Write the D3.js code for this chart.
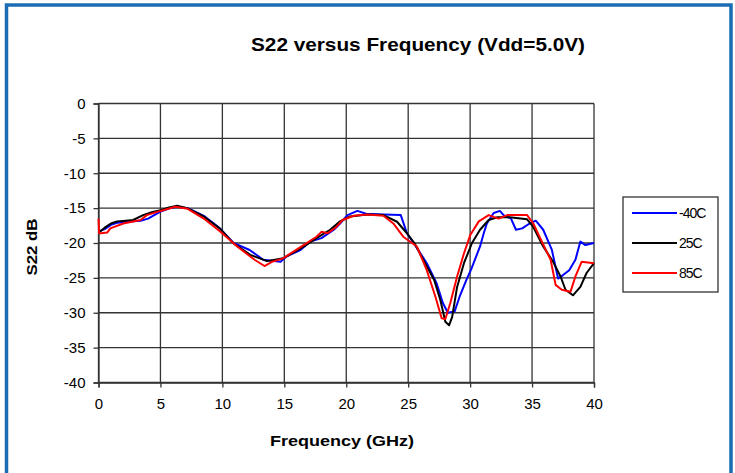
<!DOCTYPE html>
<html><head><meta charset="utf-8">
<script src="https://cdn.jsdelivr.net/npm/d3@7"></script>
<style>body{margin:0;background:#fff;} svg{display:block;}</style>
</head><body>
<svg id="c" width="735" height="473"></svg>
<script>
const title = "S22 versus Frequency (Vdd=5.0V)";
const xLabel = "Frequency (GHz)";
const yLabel = "S22 dB";
const xTicks = [0,5,10,15,20,25,30,35,40];
const yTicks = [0,-5,-10,-15,-20,-25,-30,-35,-40];
const seriesNames = ["-40C","25C","85C"];
const seriesColors = ["#0000ff","#000000","#ff0000"];

const freqM40 = [0.1,0.5,1.0,1.5,2.2,2.8,3.4,4.0,5.0,5.8,6.4,7.2,8.5,9.8,10.9,12.2,13.3,14.7,15.2,16.3,17.1,18.0,19.0,19.5,20.1,20.9,21.6,23.0,24.4,24.9,25.7,26.5,27.3,27.8,28.2,28.75,29.15,29.7,30.1,30.8,31.1,31.35,31.9,32.4,32.7,33.3,33.7,34.2,34.8,35.3,35.9,36.6,37.1,37.5,38.0,38.5,38.9,39.3,40.0];
const valM40 = [-18.3,-18.0,-17.4,-17.1,-17.0,-16.9,-16.8,-16.5,-15.5,-15.0,-14.8,-15.0,-16.1,-17.9,-20.0,-21.0,-22.4,-22.7,-21.9,-21.0,-19.8,-19.3,-18.1,-17.2,-16.0,-15.4,-15.8,-15.9,-16.0,-18.6,-20.7,-22.9,-25.8,-28.6,-30.0,-29.8,-27.7,-25.3,-23.7,-20.5,-18.6,-17.2,-15.7,-15.4,-16.0,-16.5,-18.1,-17.9,-17.2,-16.8,-18.1,-21.0,-25.1,-24.6,-23.9,-22.4,-19.8,-20.3,-20.0];

const freq25 = [0.1,0.5,1.0,1.5,2.2,2.8,3.6,4.3,5.0,5.7,6.35,7.15,8.5,9.85,10.9,12.25,13.6,14.9,16.3,17.6,18.7,19.5,20.3,21.7,23.0,24.1,24.9,25.5,26.3,27.1,27.6,28.0,28.3,28.55,28.95,29.5,30.15,30.8,31.5,32.2,33.2,34.6,35.1,35.9,36.7,37.3,37.7,38.3,38.9,39.4,40.0];
const val25 = [-18.4,-17.8,-17.2,-16.9,-16.8,-16.7,-16.0,-15.6,-15.3,-14.9,-14.65,-15.0,-16.2,-18.0,-20.05,-21.7,-22.6,-22.2,-20.8,-19.3,-18.1,-16.9,-16.2,-15.9,-16.0,-16.95,-18.6,-20.0,-22.7,-25.3,-28.2,-31.3,-31.8,-30.6,-26.3,-22.9,-20.0,-18.1,-16.7,-16.3,-16.3,-16.6,-17.7,-20.5,-22.7,-24.8,-26.7,-27.5,-26.3,-24.3,-22.9];

const freq85 = [0.0,0.05,0.2,0.7,0.95,2.0,3.4,3.9,5.0,6.2,7.2,8.5,9.85,11.2,12.6,13.4,14.0,14.9,16.3,17.6,18.0,18.5,19.2,19.7,20.6,21.7,23.0,23.8,24.6,25.7,26.5,27.2,27.7,28.0,28.4,28.95,29.5,30.0,30.7,31.5,32.3,33.0,34.6,35.1,35.6,36.5,36.9,37.4,38.1,38.5,39.0,40.0];
const val85 = [-16.5,-18.6,-18.6,-18.5,-17.9,-17.2,-16.7,-16.0,-15.4,-14.8,-15.1,-16.5,-18.4,-20.5,-22.4,-23.3,-22.7,-22.2,-20.6,-19.1,-18.4,-18.6,-17.7,-16.7,-16.1,-15.9,-16.1,-17.2,-19.1,-20.5,-23.9,-27.7,-30.8,-30.9,-28.6,-24.8,-21.5,-18.9,-16.9,-16.0,-16.5,-16.0,-16.0,-17.2,-19.1,-22.4,-26.0,-26.7,-27.0,-24.8,-22.7,-22.9];

const freqs = [freqM40, freq25, freq85];
const vals = [valM40, val25, val85];

const svg = d3.select("#c");
const font = "'Liberation Sans', Arial, sans-serif";

// outer blue frame
svg.append("rect").attr("x",6.5).attr("y",5).attr("width",724.5).attr("height",480)
  .attr("fill","none").attr("stroke","#1a6db3").attr("stroke-width",3.5);

const x = d3.scaleLinear().domain([0,40]).range([98.5,594]);
const y = d3.scaleLinear().domain([-40,0]).range([382.5,103.5]);

const g = svg.append("g");
// grid
g.selectAll("line.hg").data(yTicks).join("line")
  .attr("x1",x(0)).attr("x2",x(40)).attr("y1",d=>y(d)).attr("y2",d=>y(d))
  .attr("stroke","#333").attr("stroke-width",1.3);
g.selectAll("line.vg").data(xTicks).join("line")
  .attr("y1",y(0)).attr("y2",y(-40)).attr("x1",d=>x(d)).attr("x2",d=>x(d))
  .attr("stroke","#333").attr("stroke-width",1.3);

const fmt = d => String(d);
const xAxis = d3.axisBottom(x).tickValues(xTicks).tickSize(5).tickPadding(11).tickFormat(fmt);
const yAxis = d3.axisLeft(y).tickValues(yTicks).tickSize(5).tickPadding(8).tickFormat(fmt);
const gx = svg.append("g").attr("transform",`translate(0,${y(-40)})`).call(xAxis);
const gy = svg.append("g").attr("transform",`translate(${x(0)},0)`).call(yAxis);
[gx,gy].forEach(a=>{
  a.selectAll("path").attr("stroke","#333").attr("stroke-width",1.3);
  a.selectAll("line").attr("stroke","#333").attr("stroke-width",1.3);
  a.selectAll("text").attr("font-family",font).attr("font-size",15).attr("fill","#000");
});

// lines
const line = d3.line().x(d=>x(d[0])).y(d=>y(d[1]));
[0,1,2].forEach(i=>{
  const pts = freqs[i].map((f,j)=>[f, vals[i][j]]);
  svg.append("path").datum(pts).attr("d",line).attr("fill","none")
    .attr("stroke",seriesColors[i]).attr("stroke-width",2).attr("stroke-linejoin","round");
});

// titles
svg.append("text").attr("x",418).attr("y",51).attr("text-anchor","middle")
  .attr("font-family",font).attr("font-weight","bold").attr("font-size",19)
  .attr("textLength",334).attr("lengthAdjust","spacingAndGlyphs").text(title);
svg.append("text").attr("x",342).attr("y",446).attr("text-anchor","middle")
  .attr("font-family",font).attr("font-weight","bold").attr("font-size",15)
  .attr("textLength",144).attr("lengthAdjust","spacingAndGlyphs").text(xLabel);
svg.append("text").attr("transform","translate(37,247) rotate(-90)").attr("text-anchor","middle")
  .attr("font-family",font).attr("font-weight","bold").attr("font-size",15)
  .attr("textLength",57).attr("lengthAdjust","spacingAndGlyphs").text(yLabel);

// legend
svg.append("rect").attr("x",623).attr("y",197).attr("width",95).attr("height",95)
  .attr("fill","#fff").attr("stroke","#333").attr("stroke-width",1.3);
const ly = [213,243,273];
seriesNames.forEach((n,i)=>{
  svg.append("line").attr("x1",632).attr("x2",677).attr("y1",ly[i]).attr("y2",ly[i])
    .attr("stroke",seriesColors[i]).attr("stroke-width",2);
  svg.append("text").attr("x",679).attr("y",ly[i]+5).attr("font-family",font)
    .attr("font-size",14).attr("letter-spacing",-1).text(n);
});
</script>
</body></html>
